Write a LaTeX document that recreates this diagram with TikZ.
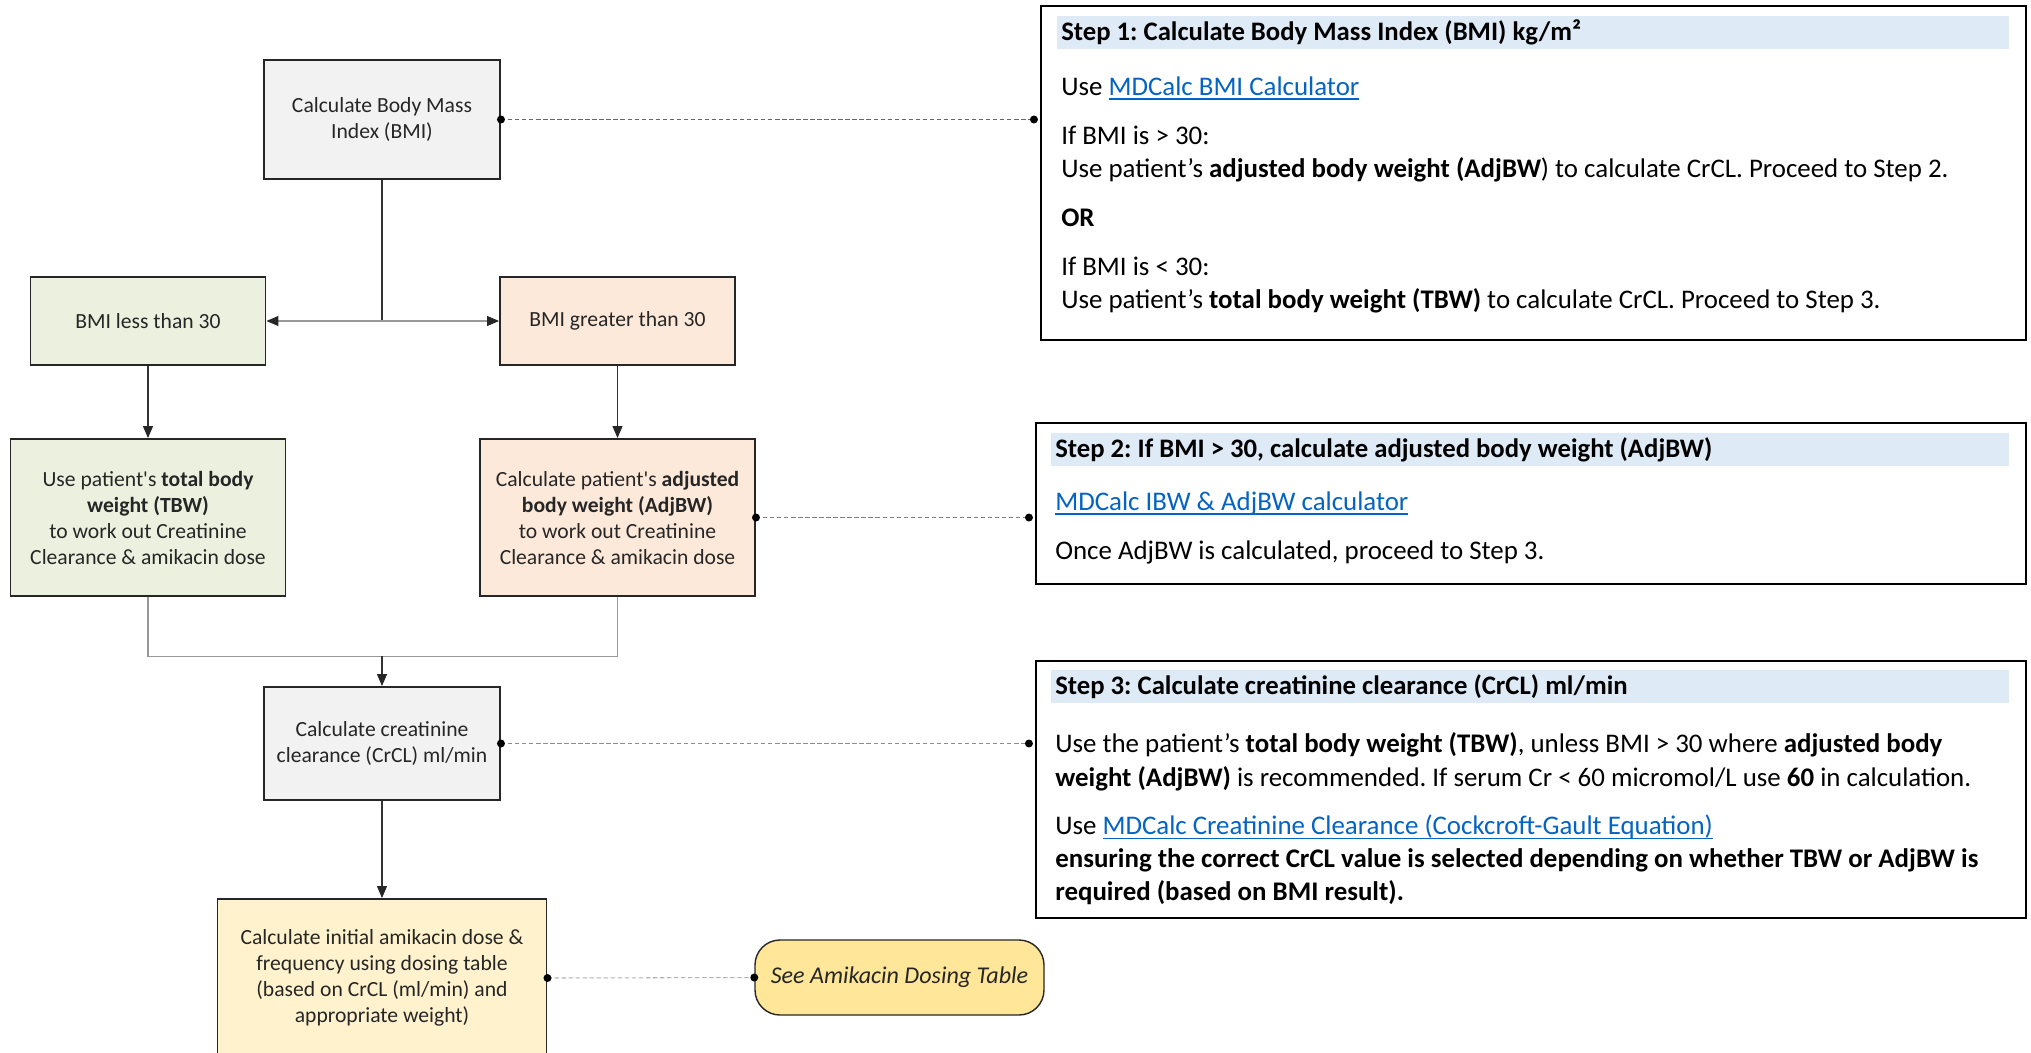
\documentclass[tikz,border=0pt]{standalone}
\usepackage{fontspec}
\setmainfont{Carlito}
\usepackage{tikz}
\usetikzlibrary{arrows.meta,positioning}
\definecolor{boxgray}{HTML}{F2F2F2}
\definecolor{boxgreen}{HTML}{EBF1DE}
\definecolor{boxpeach}{HTML}{FDE9D9}
\definecolor{boxyellow}{HTML}{FFF2CC}
\definecolor{seeyellow}{HTML}{FFE699}
\definecolor{hdrblue}{HTML}{DEEAF6}
\definecolor{linkblue}{HTML}{0563C1}
\colorlet{darkline}{black!80}
\colorlet{lightline}{black!40}
\newcommand{\lnk}[1]{\textcolor{linkblue}{\setbox0\hbox{#1}\rlap{\rule[-2.6pt]{\wd0}{1pt}}\box0}}
\frenchspacing

\begin{document}
\begin{tikzpicture}[
    >={Triangle[width=0.2cm,length=0.24cm,color=black!85]},
    flow/.style = {draw=black!85, line width=1.1pt, align=center, inner sep=0pt,
      text=black!85, font=\fontsize{12.3}{14.8}\selectfont},
    stepbox/.style = {draw=black, line width=1.2pt, inner sep=0pt},
    hdr/.style = {fill=hdrblue, anchor=north west, inner xsep=0.08cm, inner ysep=0pt,
      minimum height=0.66cm, align=flush left, font=\fontsize{15.2}{18.8}\selectfont\bfseries},
    body/.style = {align=left, inner sep=0pt, font=\fontsize{15.3}{18.8}\selectfont},
    conn/.style = {darkline, line width=0.6pt},
    split/.style = {lightline, line width=0.6pt},
    dashln/.style = {line width=0.6pt, dash pattern=on 2.5pt off 1.5pt}
  ]
  \useasboundingbox (0,0) rectangle (40.62,-21.04);
  \clip (0,0) rectangle (40.62,-21.04);
  % Flow boxes
  \node[flow, fill=boxgray, minimum width=4.72cm, minimum height=2.38cm] (bmi) at (7.64,-2.39)
    {Calculate Body Mass\\Index (BMI)};
  \node[flow, fill=boxgreen, minimum width=4.7cm, minimum height=1.76cm] (lt30) at (2.96,-6.42)
    {BMI less than 30};
  \node[flow, fill=boxpeach, minimum width=4.7cm, minimum height=1.76cm] (gt30) at (12.35,-6.42)
    {BMI greater than 30};
  \node[flow, fill=boxgreen, minimum width=5.5cm, minimum height=3.14cm] (tbw) at (2.96,-10.35)
    {Use patient\textquotesingle s \textbf{total body}\\\textbf{weight (TBW)}\\to work out Creatinine\\Clearance \& amikacin dose};
  \node[flow, fill=boxpeach, minimum width=5.5cm, minimum height=3.14cm] (adj) at (12.35,-10.35)
    {Calculate patient\textquotesingle s \textbf{adjusted}\\\textbf{body weight (AdjBW)}\\to work out Creatinine\\Clearance \& amikacin dose};
  \node[flow, fill=boxgray, minimum width=4.72cm, minimum height=2.26cm] (crcl) at (7.64,-14.87)
    {Calculate creatinine\\clearance (CrCL) ml/min};
  \node[flow, fill=boxyellow, minimum width=6.58cm, minimum height=3.16cm] (dose) at (7.64,-19.56)
    {Calculate initial amikacin dose \&\\frequency using dosing table\\(based on CrCL (ml/min) and\\appropriate weight)};
  \node[flow, fill=seeyellow, line width=0.8pt, rounded corners=0.5cm, minimum width=5.78cm,
    minimum height=1.5cm, font=\fontsize{13.7}{16}\selectfont\itshape] (see) at (17.99,-19.55)
    {See Amikacin Dosing Table};

  % Step boxes
  \node[stepbox, minimum width=19.7cm, minimum height=6.68cm] (s1) at (30.67,-3.46) {};
  \node[stepbox, minimum width=19.8cm, minimum height=3.22cm] (s2) at (30.62,-10.07) {};
  \node[stepbox, minimum width=19.8cm, minimum height=5.14cm] (s3) at (30.62,-15.79) {};

  \node[hdr, text width=18.88cm, below right=0.22cm and 0.34cm of s1.north west] (s1h)
    {Step 1: Calculate Body Mass Index (BMI) kg/m²};
  \node[hdr, text width=19cm, below right=0.22cm and 0.32cm of s2.north west] (s2h)
    {Step 2: If BMI > 30, calculate adjusted body weight (AdjBW)};
  \node[hdr, text width=19cm, below right=0.2cm and 0.32cm of s3.north west] (s3h)
    {Step 3: Calculate creatinine clearance (CrCL) ml/min};

  \node[body, below right=0.54cm and 0.08cm of s1h.south west] (s1b)
    {Use \lnk{MDCalc BMI Calculator}\\[9pt]
     If BMI is > 30:\\
     Use patient's \textbf{adjusted body weight (AdjBW}) to calculate CrCL. Proceed to Step 2.\\[9pt]
     \textbf{OR}\\[9pt]
     If BMI is < 30:\\
     Use patient's \textbf{total body weight (TBW)} to calculate CrCL. Proceed to Step 3.};
  \node[body, below right=0.5cm and 0.08cm of s2h.south west] (s2b)
    {\lnk{MDCalc IBW \& AdjBW calculator}\\[9pt]
     Once AdjBW is calculated, proceed to Step 3.};
  \node[body, below right=0.58cm and 0.08cm of s3h.south west] (s3b)
    {Use the patient's \textbf{total body weight (TBW)}, unless BMI > 30 where \textbf{adjusted body}\\
     \textbf{weight (AdjBW)} is recommended. If serum Cr < 60 micromol/L use \textbf{60} in calculation.\\[9pt]
     Use \lnk{MDCalc Creatinine Clearance (Cockcroft-Gault Equation)}\\
     \textbf{ensuring the correct CrCL value is selected depending on whether TBW or AdjBW is}\\
     \textbf{required (based on BMI result).}};

  % Flow connectors
  \coordinate (fork) at (bmi.south |- lt30.east);
  \draw[conn] (bmi.south) -- (fork);
  \draw[split,->] (fork) -- (lt30.east);
  \draw[split,->] (fork) -- (gt30.west);
  \draw[conn,->] (lt30) -- (tbw);
  \draw[conn,->] (gt30) -- (adj);
  \coordinate[yshift=0.6cm] (join) at (crcl.north);
  \draw[split] (tbw.south) |- (join) -| (adj.south);
  \draw[conn,->] (join) -- (crcl.north);
  \draw[conn,->] (crcl) -- (dose);

  % Dashed links to the steps
  \coordinate[xshift=-0.12cm] (s1in) at (bmi.east -| s1.west);
  \coordinate[xshift=-0.12cm] (s2in) at (adj.east -| s2.west);
  \coordinate[xshift=-0.12cm] (s3in) at (crcl.east -| s3.west);
  \coordinate (seein) at (see.west);
  \foreach \a/\b/\c in {bmi/s1in/60, adj/s2in/50, crcl/s3in/45, dose/seein/30} {
    \draw[dashln, black!\c] (\a.east) -- (\b);
    \fill (\a.east) circle (0.08) (\b) circle (0.08);
  }
\end{tikzpicture}
\end{document}
